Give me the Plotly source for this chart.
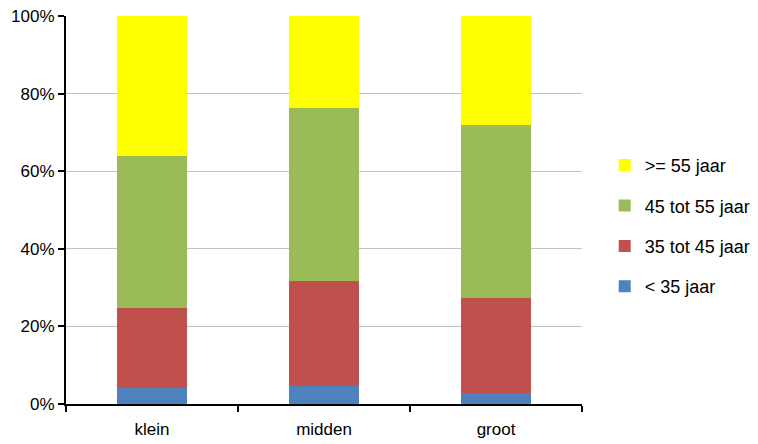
import plotly.graph_objects as go

categories = ["klein", "midden", "groot"]
series_names = ["< 35 jaar", "35 tot 45 jaar", "45 tot 55 jaar", ">= 55 jaar"]
lt35 = [0.042, 0.047, 0.028]
j35_45 = [0.205, 0.270, 0.245]
j45_55 = [0.393, 0.446, 0.446]
ge55 = [0.360, 0.237, 0.281]
colors = ["#4f81bd", "#c0504d", "#9bbb59", "#ffff00"]
legend_ranks = [4, 3, 2, 1]

values = [lt35, j35_45, j45_55, ge55]

fig = go.Figure()
for name, vals, col, rk in zip(series_names, values, colors, legend_ranks):
    fig.add_trace(go.Bar(
        x=categories, y=vals, name=name, marker_color=col,
        marker_line_width=0, legendgroup=name, legendrank=rk,
    ))

font = "Liberation Sans, Arial, sans-serif"
fig.update_layout(
    width=750, height=436,
    barmode="stack", bargap=0.59,
    margin=dict(l=58, r=176, t=8, b=40, autoexpand=False),
    plot_bgcolor="white", paper_bgcolor="white",
    font=dict(family=font, size=17, color="#000000"),
    showlegend=True,
    legend=dict(
        x=1.044, y=0.459, xanchor="left", yanchor="middle",
        traceorder="grouped", tracegroupgap=14,
        font=dict(size=18, family=font),
        itemwidth=30,
    ),
    xaxis=dict(
        showline=True, linecolor="black", linewidth=2,
        ticks="outside", tickson="boundaries", ticklen=6, tickcolor="black",
        tickwidth=2, automargin=False, ticklabelstandoff=9,
        tickfont=dict(size=17),
    ),
    yaxis=dict(
        range=[0, 1], tickvals=[0, 0.2, 0.4, 0.6, 0.8, 1.0],
        tickformat=".0%", automargin=False, ticklabeloverflow="allow",
        showline=True, linecolor="black", linewidth=2,
        ticks="outside", ticklen=6, tickcolor="black", tickwidth=2,
        showgrid=True, gridcolor="#c0c0c0", gridwidth=1,
        zeroline=False, tickfont=dict(size=17),
    ),
)

fig.write_html("out.html")
